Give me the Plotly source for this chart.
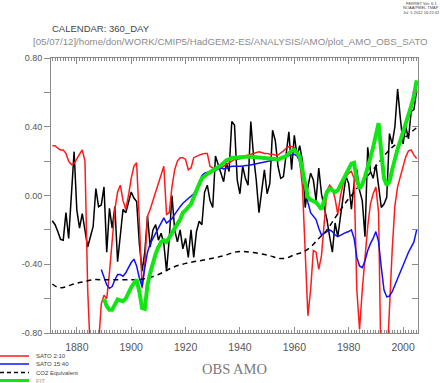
import plotly.graph_objects as go

# ---------------- data ----------------
obs_years = list(range(1871, 2006))
obs_amo = [
    -0.147, -0.17, -0.21, -0.255, -0.26, -0.10, -0.25, -0.025, 0.255, -0.085,   # 1871-1880
    -0.19, -0.105, -0.21, -0.30, -0.24, -0.18, 0.04, -0.065, -0.055, 0.05,      # 1881-1890
    -0.33, -0.075, -0.19, -0.065, -0.385, -0.21, -0.08, -0.10, -0.045, 0.02,    # 1891-1900
    -0.015, -0.035, -0.28, -0.44, -0.33, -0.12, -0.30, -0.20, -0.17, -0.26,     # 1901-1910
    -0.22, -0.28, -0.44, -0.25, 0.00, -0.20, -0.27, -0.20, -0.31, -0.25,        # 1911-1920
    -0.36, -0.20, -0.36, -0.21, -0.15, -0.17, 0.02, 0.06, -0.03, -0.07,         # 1921-1930
    0.23, 0.18, 0.13, 0.08, 0.19, 0.14, 0.43, 0.41, 0.09, 0.01,                 # 1931-1940
    0.17, 0.10, 0.06, 0.43, 0.23, 0.09, -0.10, 0.03, 0.15, 0.01,                # 1941-1950
    0.07, 0.38, 0.32, 0.17, 0.10, 0.11, 0.26, 0.37, 0.15, 0.35,                 # 1951-1960
    0.23, 0.29, 0.20, -0.07, 0.05, 0.13, 0.09, -0.03, 0.16, 0.01,               # 1961-1970
    -0.07, -0.14, -0.24, -0.33, -0.16, -0.24, -0.12, 0.00, 0.11, 0.07,          # 1971-1980
    -0.08, 0.07, 0.15, 0.03, -0.03, -0.24, 0.28, 0.14, 0.10, 0.18,              # 1981-1990
    0.06, -0.07, -0.05, -0.01, 0.36, 0.30, 0.40, 0.62, 0.45, 0.30,              # 1991-2000
    0.40, 0.33, 0.49, 0.50, 0.61,                                               # 2001-2005
]

sato210_years = list(range(1871, 2006))
sato210 = [
    0.29, 0.29, 0.275, 0.265, 0.265, 0.245, 0.20, 0.18, 0.185, 0.215,           # 1871-1880
    0.24, 0.265, 0.20, -0.55, -1.1, -1.3, -1.1, -0.85, -0.63, -0.58,            # 1881-1890
    -0.60, -0.45, -0.25, -0.08, 0.02, 0.06, -0.03, -0.08, 0.0, 0.10,            # 1891-1900
    0.17, 0.19, -0.15, -0.54, -0.40, -0.12, -0.08, -0.03, 0.02, 0.06,           # 1901-1910
    0.11, 0.17, -0.11, -0.10, 0.05, 0.15, 0.20, 0.22, 0.22, 0.21,               # 1911-1920
    0.15, 0.16, 0.22, 0.23, 0.235, 0.24, 0.245, 0.245, 0.17, 0.16,              # 1921-1930
    0.15, 0.155, 0.16, 0.17, 0.18, 0.19, 0.20, 0.21, 0.21, 0.215,               # 1931-1940
    0.22, 0.23, 0.235, 0.24, 0.245, 0.25, 0.255, 0.25, 0.245, 0.245,            # 1941-1950
    0.24, 0.24, 0.235, 0.235, 0.245, 0.26, 0.275, 0.285, 0.285, 0.28,           # 1951-1960
    0.24, 0.20, 0.05, -0.35, -0.70, -0.55, -0.32, -0.33, -0.43, -0.35,          # 1961-1970
    -0.15, 0.03, 0.06, 0.04, -0.02, -0.11, 0.0, 0.07, 0.11, 0.13,               # 1971-1980
    0.14, 0.10, -0.55, -0.78, -0.55, -0.36, -0.18, -0.05, 0.01, 0.05,           # 1981-1990
    -0.10, -1.1, -1.3, -1.0, -0.65, -0.32, -0.06, 0.05, 0.11, 0.17,             # 1991-2000
    0.225, 0.26, 0.265, 0.235, 0.215,                                           # 2001-2005
]

sato1540_years = list(range(1889, 2006))
sato1540 = [
    -0.43, -0.47, -0.52, -0.54, -0.53, -0.49, -0.46, -0.46, -0.47, -0.45,       # 1889-1898
    -0.42, -0.39, -0.37, -0.41, -0.48, -0.53, -0.42, -0.33, -0.28, -0.25,       # 1899-1908
    -0.22, -0.19, -0.16, -0.13, -0.16, -0.15, -0.135, -0.11, -0.085, -0.065,    # 1909-1918
    -0.045, -0.03, -0.02, -0.005, 0.01, 0.04, 0.08, 0.115, 0.13, 0.135,         # 1919-1928
    0.14, 0.14, 0.145, 0.155, 0.16, 0.155, 0.16, 0.165, 0.17, 0.17,             # 1929-1938
    0.168, 0.17, 0.171, 0.175, 0.174, 0.177, 0.18, 0.184, 0.186, 0.19,          # 1939-1948
    0.193, 0.197, 0.20, 0.205, 0.208, 0.214, 0.217, 0.221, 0.227, 0.232,        # 1949-1958
    0.238, 0.24, 0.23, 0.20, 0.12, 0.03, -0.04, -0.10, -0.12, -0.14,            # 1959-1968
    -0.19, -0.23, -0.22, -0.21, -0.20, -0.21, -0.23, -0.24, -0.23, -0.22,       # 1969-1978
    -0.215, -0.21, -0.20, -0.25, -0.36, -0.41, -0.42, -0.38, -0.32, -0.28,      # 1979-1988
    -0.25, -0.21, -0.27, -0.42, -0.55, -0.59, -0.585, -0.56, -0.52, -0.48,      # 1989-1998
    -0.45, -0.41, -0.37, -0.33, -0.30, -0.27, -0.20,                            # 1999-2005
]

co2_years = [1871, 1873, 1875, 1877, 1880, 1883, 1886, 1890, 1895, 1900, 1903,
             1906, 1910, 1915, 1920, 1925, 1930, 1934, 1938, 1941, 1944, 1948,
             1951, 1954, 1957, 1960, 1963, 1966, 1969, 1972, 1975, 1978, 1981,
             1984, 1987, 1990, 1993, 1996, 1999, 2002, 2005]
co2_equiv = [-0.515, -0.535, -0.535, -0.525, -0.51, -0.50, -0.49, -0.49, -0.49,
             -0.49, -0.49, -0.48, -0.46, -0.42, -0.395, -0.38, -0.365, -0.35,
             -0.33, -0.325, -0.33, -0.34, -0.35, -0.365, -0.365, -0.345, -0.33,
             -0.30, -0.25, -0.20, -0.13, -0.06, 0.0, 0.06, 0.115, 0.17, 0.23,
             0.28, 0.315, 0.355, 0.395]

fit_years = list(range(1890, 2006))
fit = [
    -0.60, -0.645, -0.665, -0.665, -0.635, -0.605, -0.61, -0.615, -0.60, -0.565,  # 1890-1899
    -0.535, -0.51, -0.49, -0.56, -0.655, -0.66, -0.52, -0.45, -0.39, -0.34,       # 1900-1909
    -0.30, -0.27, -0.26, -0.27, -0.245, -0.215, -0.19, -0.165, -0.14, -0.10,      # 1910-1919
    -0.085, -0.07, -0.05, -0.01, 0.035, 0.065, 0.10, 0.115, 0.125, 0.135,         # 1920-1929
    0.145, 0.15, 0.165, 0.175, 0.19, 0.205, 0.21, 0.22, 0.22, 0.22,               # 1930-1939
    0.222, 0.224, 0.225, 0.227, 0.226, 0.226, 0.225, 0.223, 0.222, 0.22,          # 1940-1949
    0.218, 0.216, 0.214, 0.212, 0.21, 0.215, 0.222, 0.23, 0.245, 0.26,            # 1950-1959
    0.265, 0.25, 0.225, 0.15, 0.06, -0.01, -0.025, -0.03, -0.04, -0.06,           # 1960-1969
    -0.08, -0.03, 0.02, 0.04, 0.03, 0.02, 0.03, 0.06, 0.09, 0.12,                 # 1970-1979
    0.155, 0.185, 0.19, 0.09, 0.04, 0.065, 0.11, 0.16, 0.22, 0.28,                # 1980-1989
    0.34, 0.42, 0.25, 0.10, 0.06, 0.08, 0.15, 0.22, 0.27, 0.32,                   # 1990-1999
    0.37, 0.42, 0.46, 0.52, 0.58, 0.67,                                           # 2000-2005
]

x_tick_vals = [1880, 1900, 1920, 1940, 1960, 1980, 2000]
y_tick_vals = [-0.8, -0.4, 0.0, 0.4, 0.8]
y_tick_text = ["-0.80", "-0.40", "0.00", "0.40", "0.80"]

legend_names = ["SATO 2:10", "SATO 15:40", "CO2 Equivalent", "FIT"]

# ---------------- figure ----------------
W, H = 440, 383
L, R, T, B = 51, 22, 58, 50
PW, PH = W - L - R, H - T - B


def px_x(px):
    return (px - L) / PW


def px_y(py):
    return (H - B - py) / PH


FRAME = "#8a8a8a"
FONT = "Liberation Sans"

fig = go.Figure()
fig.add_trace(go.Scatter(x=obs_years, y=obs_amo, mode="lines",
                         line=dict(color="black", width=1.5), name="OBS AMO"))
fig.add_trace(go.Scatter(x=sato210_years, y=sato210, mode="lines",
                         line=dict(color="#ff1a1a", width=1.5), name=legend_names[0]))
fig.add_trace(go.Scatter(x=sato1540_years, y=sato1540, mode="lines",
                         line=dict(color="#1010ff", width=1.5), name=legend_names[1]))
fig.add_trace(go.Scatter(x=co2_years, y=co2_equiv, mode="lines",
                         line=dict(color="black", width=1.5, dash="5px,4px", shape="spline"),
                         name=legend_names[2]))
fig.add_trace(go.Scatter(x=fit_years, y=fit, mode="lines", yaxis="y2",
                         line=dict(color="#12e612", width=4), name=legend_names[3]))

fig.update_layout(
    width=W, height=H,
    margin=dict(l=L, r=R, t=T, b=B, autoexpand=False),
    paper_bgcolor="white", plot_bgcolor="white",
    showlegend=False,
    font=dict(family=FONT, color="#555", size=10),
    xaxis=dict(
        range=[1870.5, 2005.5], tickvals=x_tick_vals,
        showgrid=False, zeroline=False,
        showline=True, linecolor=FRAME, linewidth=1, mirror="ticks",
        ticks="inside", ticklen=6, tickcolor=FRAME, tickwidth=1,
        minor=dict(dtick=1, tick0=1870, ticks="inside", ticklen=3,
                   tickcolor=FRAME, tickwidth=1, showgrid=False),
        tickfont=dict(family=FONT, size=10.5, color="#555"),
        ticklabelstandoff=4,
    ),
    yaxis=dict(
        range=[-0.8, 0.8], tickvals=y_tick_vals, ticktext=y_tick_text,
        showgrid=False, zeroline=False,
        showline=True, linecolor=FRAME, linewidth=1, mirror=False,
        ticks="outside", ticklen=6, tickcolor=FRAME, tickwidth=1,
        minor=dict(dtick=0.2, tick0=0, ticks="outside", ticklen=6,
                   tickcolor=FRAME, tickwidth=1, showgrid=False),
        tickfont=dict(family=FONT, size=9, color="#555"),
    ),
    yaxis2=dict(
        range=[-0.8, 0.8], overlaying="y", side="right",
        showgrid=False, zeroline=False, showticklabels=False,
        showline=True, linecolor=FRAME, linewidth=1,
        ticks="inside", ticklen=6, dtick=0.2, tick0=0,
        tickcolor=FRAME, tickwidth=1,
    ),
)

ann = []
ann.append(dict(text="CALENDAR: 360_DAY", x=px_x(50), y=px_y(29),
                xanchor="left", yanchor="middle",
                font=dict(family=FONT, size=9.5, color="#444")))
ann.append(dict(text="[05/07/12]/home/don/WORK/CMIP5/HadGEM2-ES/ANALYSIS/AMO/plot_AMO_OBS_SATO",
                x=px_x(230.5), y=px_y(41), xanchor="center", yanchor="middle",
                font=dict(family=FONT, size=9.7, color="#8c8c8c")))
for i, t in enumerate(["FERRET Ver. 6.1", "NOAA/PMEL TMAP", "Jul  5 2012 16:22:42"]):
    ann.append(dict(text=t, x=px_x(421), y=px_y(3 + 4.6 * i), xanchor="center",
                    yanchor="middle", font=dict(family=FONT, size=4, color="#444")))
ann.append(dict(text="OBS AMO", x=px_x(234.5), y=px_y(369), xanchor="center",
                yanchor="middle",
                font=dict(family="Liberation Serif", size=14.5, color="#7a7a7a")))

leg_y = [356, 364, 372.5, 380.5]
leg_col = ["#ff1a1a", "#1010ff", "black", "#12e612"]
leg_w = [1.5, 1.5, 1.5, 3]
leg_dash = ["solid", "solid", "4px,3px", "solid"]
leg_txt_col = ["#444", "#444", "#444", "#9a9a9a"]
shapes = []
for name, yy, c, w, d, tc in zip(legend_names, leg_y, leg_col, leg_w, leg_dash, leg_txt_col):
    shapes.append(dict(type="line", xref="paper", yref="paper",
                       x0=px_x(0), x1=px_x(29), y0=px_y(yy), y1=px_y(yy),
                       line=dict(color=c, width=w, dash=d)))
    ann.append(dict(text=name, x=px_x(34), y=px_y(yy), xanchor="left", yanchor="middle",
                    font=dict(family=FONT, size=6, color=tc)))

for a in ann:
    a.update(xref="paper", yref="paper", showarrow=False)
fig.update_layout(annotations=ann, shapes=shapes)

fig.write_html("out.html", config={"displayModeBar": False},
               post_script="document.body.style.margin='0';document.body.style.overflow='hidden';")
